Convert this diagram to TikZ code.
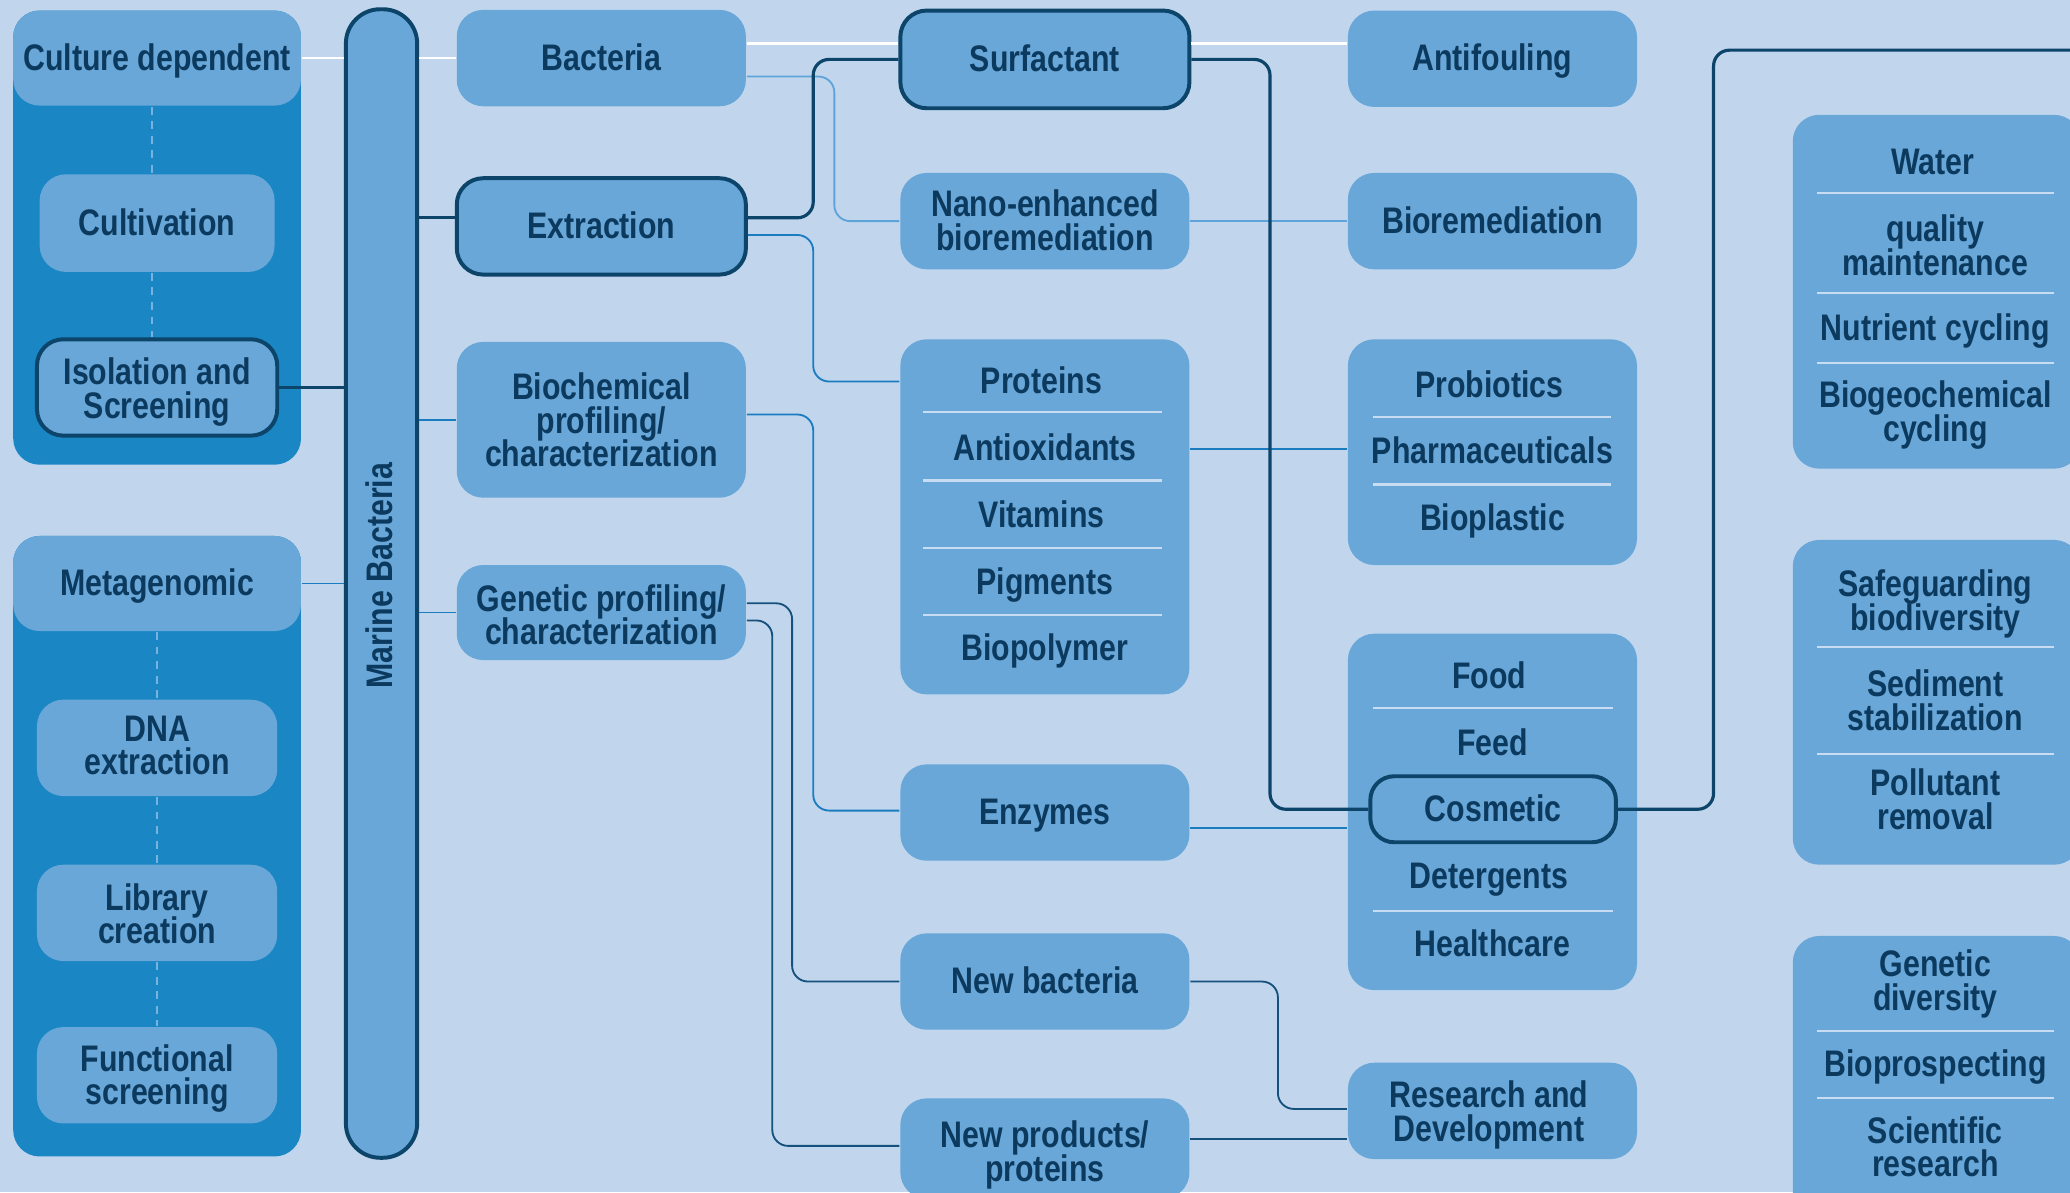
\documentclass[tikz,border=0pt]{standalone}
\usepackage{fontspec}
\setmainfont{Liberation Sans}[FakeStretch=0.82]

\definecolor{bgblue}{RGB}{193,214,237}
\definecolor{boxblue}{RGB}{104,167,216}
\definecolor{panelblue}{RGB}{26,134,196}
\definecolor{navy}{RGB}{12,68,106}
\definecolor{inkblue}{RGB}{12,58,94}
\definecolor{midblue}{RGB}{27,125,192}
\definecolor{deepblue}{RGB}{22,80,125}
\definecolor{paleblue}{RGB}{94,163,218}
\definecolor{sepblue}{RGB}{200,221,241}
\definecolor{dashblue}{RGB}{120,178,222}

\newcommand{\boxfont}{\bfseries\fontsize{14}{12.8}\selectfont\lineskiplimit=-20pt\relax}
\newcommand{\topstrut}{\vrule width 0pt height 12.2pt\relax}
\newcommand{\botstrut}{\vrule width 0pt depth 3pt\relax}

\tikzset{every picture/.style={line width=0.75pt}}
\tikzset{
  txt/.style={text=inkblue, font=\boxfont, align=center, inner sep=0pt,
    execute at begin node=\topstrut, execute at end node=\botstrut},
  box/.style={txt, rectangle, rounded corners=10pt, fill=boxblue, minimum width=109.5pt, minimum height=36.5pt},
  keybox/.style={box, draw=navy, line width=1.5pt},
  sep/.style={draw=sepblue, line width=0.8pt},
  dashlink/.style={draw=dashblue, line width=0.6pt, dash pattern={on 3pt off 2.5pt}},
  whitelink/.style={draw=white, line width=1pt},
  keylink/.style={draw=navy, line width=1.2pt, rounded corners=6pt},
  link/.style={draw=midblue, line width=0.7pt, rounded corners=6pt},
  darklink/.style={draw=deepblue, line width=0.7pt, rounded corners=6pt},
  palelink/.style={draw=paleblue, line width=0.7pt, rounded corners=6pt}
}

\begin{document}
\begin{tikzpicture}[x=0.5pt,y=0.5pt,yscale=-1,xscale=1]
\useasboundingbox (0,0) rectangle (1568,903);
\clip (0,0) rectangle (1568,903);
\fill[bgblue] (0,0) rectangle (1568,903);

%Shape: Panels
\fill[panelblue, rounded corners=10pt] (10,8) rectangle (228,352);
\fill[panelblue, rounded corners=10pt] (10,406) rectangle (228,876);

% Left column
\node[box, minimum width=109pt, minimum height=36pt] (cultdep) at (119,44) {Culture dependent};
\node[box, minimum width=89pt, minimum height=37pt] (cultiv) at (119,169) {Cultivation};
\node[keybox, minimum width=91pt] (isol) at (119,293.5) {};
\node[txt] (isollbl) at (119,297) {Isolation and\\Screening};
\node[box, minimum width=109pt, minimum height=36pt] (meta) at (119,442) {Metagenomic};
\node[box, minimum width=91pt] (dna) at (119,566.5) {};
\node[txt] (dnalbl) at (119,567.5) {DNA\\extraction};
\node[box, minimum width=91pt] (libr) at (119,691.5) {};
\node[txt] (librlbl) at (119,695) {Library\\creation};
\node[box, minimum width=91pt] (funct) at (119,814.5) {};
\node[txt] (functlbl) at (119,817) {Functional\\screening};

\draw[dashlink] ([xshift=-2pt]cultdep.south) -- ([xshift=-2pt]cultiv.north);
\draw[dashlink] ([xshift=-2pt]cultiv.south) -- ([xshift=-2pt]isol.north);
\draw[dashlink] (meta.south) -- (dna.north);
\draw[dashlink] (dna.south) -- (libr.north);
\draw[dashlink] (libr.south) -- (funct.north);

% Marine bar
\node[keybox, minimum width=27pt, minimum height=435pt, rounded corners=13pt] (marine) at (289,442) {};
\node[txt, rotate=90] (marinelbl) at (288,436) {Marine Bacteria};

% Second column
\node[box] (bact) at (455.5,44) {Bacteria};
\node[keybox] (extr) at (455.5,171.5) {Extraction};
\node[box, minimum height=59pt] (biochem) at (455.5,318) {};
\node[txt] (biochemlbl) at (455.5,321) {Biochemical\\profiling/\\characterization};
\node[box, minimum height=36pt] (genet) at (455.5,464) {};
\node[txt] (genetlbl) at (455.5,468.5) {Genetic profiling/\\characterization};

% Third column
\node[keybox, minimum height=37pt] (surf) at (791.5,45) {Surfactant};
\node[box] (nano) at (791.5,167.5) {};
\node[txt] (nanolbl) at (791.5,170) {Nano-enhanced\\bioremediation};
\node[box, minimum height=134.5pt] (prot) at (791.5,391.5) {};
\node[txt] (proteins) at (789,289) {Proteins};
\node[txt] (antiox) at (791.5,340) {Antioxidants};
\node[txt] (vitam) at (789,390) {Vitamins};
\node[txt] (pigm) at (791.5,441) {Pigments};
\node[txt] (biopol) at (791.5,491) {Biopolymer};
\foreach \y in {312,364,415,466} \draw[sep] (699,\y) -- (880,\y);
\node[box] (enz) at (791.5,615.5) {Enzymes};
\node[box] (newbact) at (791.5,743.5) {New bacteria};
\node[box, minimum height=38pt] (newprod) at (791.5,870) {};
\node[txt] (newprodlbl) at (791.5,875) {New products/\\proteins};

% Fourth column
\node[box] (antif) at (1130.5,44.5) {Antifouling};
\node[box] (biorem) at (1130.5,167.5) {Bioremediation};
\node[box, minimum height=85.5pt] (probgrp) at (1130.5,342.5) {};
\node[txt] (probio) at (1128,292) {Probiotics};
\node[txt] (pharma) at (1130.5,342) {Pharmaceuticals};
\node[txt] (bioplast) at (1130.5,393) {Bioplastic};
\foreach \y in {316,367} \draw[sep] (1040,\y) -- (1220,\y);
\node[box, minimum height=135pt] (foodgrp) at (1130.5,615) {};
\node[txt] (food) at (1128,512) {Food};
\node[txt] (feed) at (1130.5,563) {Feed};
\node[keybox, minimum width=93pt, minimum height=25pt, rounded corners=9pt] (cosm) at (1131,613) {Cosmetic};
\node[txt] (deterg) at (1128,664) {Detergents};
\node[txt] (health) at (1130.5,715) {Healthcare};
\foreach \y in {536,690} \draw[sep] (1040,\y) -- (1222,\y);
\node[box] (rnd) at (1130.5,841.5) {};
\node[txt] (rndlbl) at (1128,844.5) {Research and\\Development};

% Fifth column
\node[box, minimum width=109pt, minimum height=134pt] (watergrp) at (1467,221) {};
\node[txt] (water) at (1464,123) {Water};
\node[txt] (quality) at (1466,188.5) {quality\\maintenance};
\node[txt] (nutri) at (1466,249) {Nutrient cycling};
\node[txt] (biogeo) at (1466,314.5) {Biogeochemical\\cycling};
\foreach \y in {146,222,275} \draw[sep] (1376,\y) -- (1556,\y);
\node[box, minimum width=109pt, minimum height=123pt] (safegrp) at (1467,532) {};
\node[txt] (safeg) at (1466,457.5) {Safeguarding\\biodiversity};
\node[txt] (sedim) at (1466,533.5) {Sediment\\stabilization};
\node[txt] (pollut) at (1466,608.5) {Pollutant\\removal};
\foreach \y in {490,571} \draw[sep] (1376,\y) -- (1556,\y);
\node[box, minimum width=109pt, minimum height=108pt] (divgrp) at (1467,817) {};
\node[txt] (gendiv) at (1466,745.5) {Genetic\\diversity};
\node[txt] (biopros) at (1466,806) {Bioprospecting};
\node[txt] (scient) at (1466,871.5) {Scientific\\research};
\foreach \y in {781,832} \draw[sep] (1376,\y) -- (1556,\y);

% White links
\draw[whitelink] (cultdep.east) -- (cultdep.east -| marine.west);
\draw[whitelink] (bact.west -| marine.east) -- (bact.west);
\draw[whitelink] (bact.east |- 0,33) -- (surf.west |- 0,33);
\draw[whitelink] (surf.east |- 0,33) -- (antif.west |- 0,33);

% Pale links
\draw[palelink] (bact.east |- 0,58) -- (632,58) |- (nano.west);
\draw[palelink] (nano.east) -- (biorem.west);

% Blue links
\draw[link] (meta.east) -- (meta.east -| marine.west);
\draw[link] (marine.east |- 0,318) -- (biochem.west |- 0,318);
\draw[link] (marine.east |- genet.west) -- (genet.west);
\draw[link] (extr.east |- 0,178) -- (616,178) |- (prot.west |- proteins);
\draw[link] (biochem.east |- 0,314) -- (616,314) |- (enz.west |- 0,614);
\draw[link] (prot.east |- antiox) -- (probgrp.west |- antiox);
\draw[link] (enz.east |- 0,627) -- (foodgrp.west |- 0,627);

% Deep links
\draw[darklink] (genet.east |- 0,457) -- (600,457) |- (newbact.west);
\draw[darklink] (genet.east |- 0,470) -- (585,470) |- (newprod.west |- 0,868);
\draw[darklink] (newbact.east) -- (968,743.5) |- (rnd.west |- 0,840);
\draw[darklink] (newprod.east |- 0,863) -- (rnd.west |- 0,863);

% Key path
\coordinate (edge) at (1575,38);
\draw[keylink] (isol.east) -- (isol.east -| marine.west);
\draw[keylink] (marine.east |- 0,165) -- (extr.west |- 0,165);
\draw[keylink] (extr.east |- 0,165) -- (616,165) |- (surf.west);
\draw[keylink] (surf.east) -- (962,45) |- (cosm.west);
\draw[keylink] (cosm.east) -- (1298,613) |- (edge);

\end{tikzpicture}
\end{document}
